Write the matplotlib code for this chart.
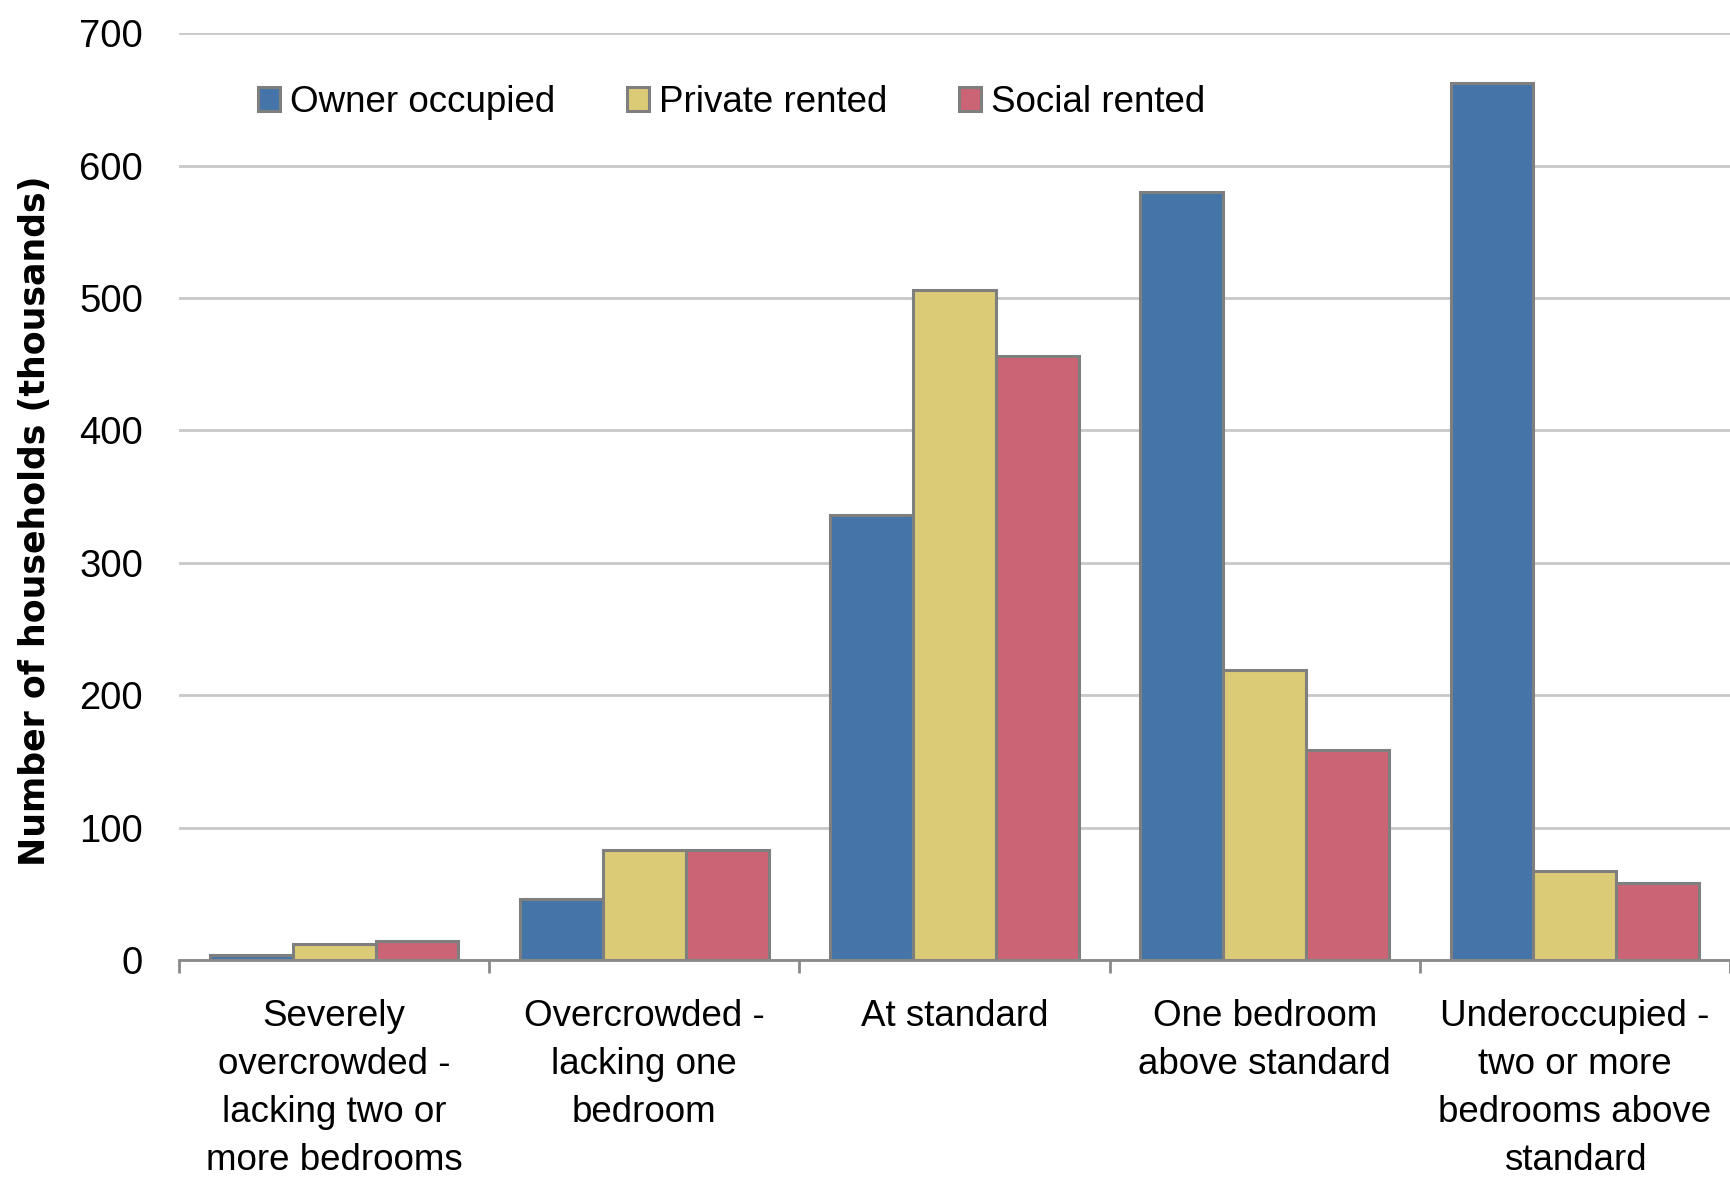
import matplotlib.pyplot as plt
import numpy as np

categories = [
    "Severely\novercrowded -\nlacking two or\nmore bedrooms",
    "Overcrowded -\nlacking one\nbedroom",
    "At standard",
    "One bedroom\nabove standard",
    "Underoccupied -\ntwo or more\nbedrooms above\nstandard",
]
series = ["Owner occupied", "Private rented", "Social rented"]
owner = [4, 46, 336, 580, 662]
private = [12.5, 83, 506, 219, 67]
social = [14.5, 83, 456, 159, 58]
colors = ["#4575A8", "#DBCB76", "#CB6575"]

plt.rcParams["font.family"] = ["Liberation Sans", "DejaVu Sans"]
fs = 26.5

fig = plt.figure(figsize=(17.3, 11.81), dpi=100)
ax = fig.add_axes([0.1035, 0.187, 0.8965, 0.785])

x = np.arange(len(categories))
w = 0.267
for i, (vals, name) in enumerate(zip([owner, private, social], series)):
    ax.bar(x + (i - 1) * w, vals, w, color=colors[i], edgecolor="#7F7F7F",
           linewidth=2.2, label=name, zorder=2)

ax.set_xlim(-0.5, 4.5)
ax.set_ylim(0, 700)
ax.set_yticks(range(0, 701, 100))
ax.yaxis.grid(True, color="#C8C8C8", linewidth=2)
ax.set_axisbelow(True)

for s in ["top", "right", "left"]:
    ax.spines[s].set_visible(False)
ax.spines["bottom"].set_color("#898989")
ax.spines["bottom"].set_linewidth(2)
ax.spines["bottom"].set_zorder(3)

ax.set_xticks(x)
ax.set_xticklabels(categories, fontsize=fs, linespacing=1.48, va="top")
ax.set_xticks(np.arange(-0.5, 5, 1), minor=True)
ax.tick_params(axis="x", which="major", length=0, pad=28)
ax.tick_params(axis="x", which="minor", length=9, width=2, color="#898989", direction="out")
ax.tick_params(axis="y", length=0, labelsize=27.5, pad=26)

ax.set_ylabel("Number of households (thousands)", fontsize=25, fontweight="bold",
              family=["DejaVu Sans"])
ax.yaxis.set_label_coords(-0.082, 0.474)

ax.legend(loc="center left", bbox_to_anchor=(0.051, 0.925), ncol=3, frameon=False,
          fontsize=fs, handlelength=0.6, handleheight=0.6, handletextpad=0.27,
          columnspacing=1.95, borderpad=0, borderaxespad=0)

fig.savefig("out.png", dpi=100)
